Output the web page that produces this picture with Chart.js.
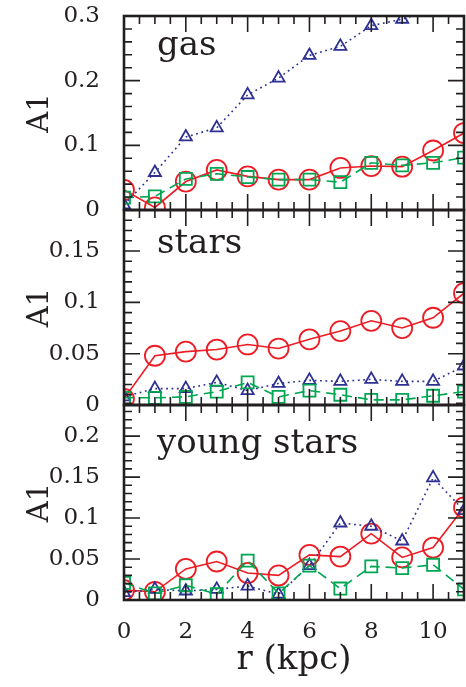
<!DOCTYPE html>
<html>
<head>
<meta charset="utf-8">
<script src="https://cdn.jsdelivr.net/npm/chart.js@4.4.0/dist/chart.umd.min.js"></script>
<style>
  html, body { margin: 0; padding: 0; background: #fff; }
  #wrap { position: relative; width: 466px; height: 687px; }
  canvas { position: absolute; left: 0; }
</style>
</head>
<body>
<div id="wrap">
  <canvas id="gasChart" width="466" height="230" style="top:0px"></canvas>
  <canvas id="starsChart" width="466" height="240" style="top:190px"></canvas>
  <canvas id="youngChart" width="466" height="302" style="top:385px"></canvas>
</div>
<script>
// radius in kpc
const radius = [0, 1, 2, 3, 4, 5, 6, 7, 8, 9, 10, 11];
const xTicks = [0, 2, 4, 6, 8, 10];

// gas
const gasTicks = [0, 0.1, 0.2, 0.3];
const gasCircle = [0.031, 0.004, 0.044, 0.062, 0.052, 0.047, 0.047, 0.065, 0.068, 0.067, 0.092, 0.119];
const gasTriangle = [0.008, 0.058, 0.113, 0.127, 0.178, 0.204, 0.239, 0.253, 0.285, 0.295, 0.31, 0.33];
const gasSquare = [0.019, 0.021, 0.048, 0.056, 0.051, 0.047, 0.047, 0.043, 0.073, 0.069, 0.073, 0.081];

// stars
const starsTicks = [0, 0.05, 0.1, 0.15];
const starsCircle = [0.006, 0.048, 0.052, 0.054, 0.059, 0.055, 0.064, 0.072, 0.082, 0.075, 0.085, 0.109];
const starsTriangle = [0.008, 0.016, 0.016, 0.022, 0.014, 0.021, 0.024, 0.023, 0.025, 0.023, 0.023, 0.038];
const starsSquare = [0.007, 0.007, 0.008, 0.013, 0.022, 0.008, 0.014, 0.010, 0.005, 0.005, 0.009, 0.013];

// young stars
const youngTicks = [0, 0.05, 0.1, 0.15, 0.2];
const youngCircle = [0.012, 0.010, 0.038, 0.047, 0.033, 0.030, 0.055, 0.053, 0.081, 0.052, 0.064, 0.113];
const youngTriangle = [0.009, 0.013, 0.011, 0.013, 0.017, 0.007, 0.042, 0.094, 0.090, 0.072, 0.149, 0.109];
const youngSquare = [0.021, 0.008, 0.018, 0.007, 0.048, 0.008, 0.042, 0.014, 0.041, 0.039, 0.043, 0.013];

const RED = '#ed1c24';
const BLUE = '#2e3192';
const GREEN = '#00a651';
const INK = '#231f20';
const FONT = '"DejaVu Serif", serif';

const fmt = v => String(+v.toFixed(3));

// frame, inward ticks on all four sides, panel name
const framePlugin = {
    id: 'frame',
    afterDraw(chart, args, opts) {
        const { ctx, chartArea: a, scales: { x, y } } = chart;
        ctx.save();
        ctx.strokeStyle = INK;
        ctx.lineWidth = 1.6;
        ctx.beginPath();
        const nx = Math.round((x.max - x.min) / 0.5);
        for (let i = 0; i <= nx; i++) {
            const v = x.min + i * 0.5;
            const px = x.getPixelForValue(v);
            const len = xTicks.includes(v) ? 16 : 8;
            ctx.moveTo(px, a.bottom); ctx.lineTo(px, a.bottom - len);
            ctx.moveTo(px, a.top); ctx.lineTo(px, a.top + len);
        }
        const ny = Math.round((y.max - y.min) / opts.yMinor);
        for (let i = 0; i <= ny; i++) {
            const v = y.min + i * opts.yMinor;
            const py = y.getPixelForValue(v);
            const major = opts.yMajor.some(t => Math.abs(t - v) < 1e-6);
            const len = major ? 16 : 8;
            ctx.moveTo(a.left, py); ctx.lineTo(a.left + len, py);
            ctx.moveTo(a.right, py); ctx.lineTo(a.right - len, py);
        }
        ctx.stroke();
        ctx.lineWidth = 2.6;
        ctx.strokeRect(a.left, a.top, a.right - a.left, a.bottom - a.top);

        ctx.fillStyle = INK;
        ctx.font = '34px ' + FONT;
        ctx.textBaseline = 'alphabetic';
        ctx.textAlign = 'left';
        ctx.fillText(opts.label, a.left + 33, a.top + opts.labelDy);
        ctx.restore();
    }
};

function makeDatasets(circle, triangle, square) {
    const pts = arr => arr.map((v, i) => ({ x: radius[i], y: v }));
    return [
        {
            data: pts(square),
            borderColor: GREEN,
            borderWidth: 1.6,
            borderDash: [10, 6],
            pointStyle: 'rect',
            pointRadius: 8.5,
            pointBorderWidth: 1.8,
            pointBackgroundColor: 'rgba(0,0,0,0)',
            clip: 0
        },
        {
            data: pts(triangle),
            borderColor: BLUE,
            borderWidth: 1.6,
            borderDash: [1.8, 3.6],
            pointStyle: 'triangle',
            pointRadius: 7,
            pointBorderWidth: 1.8,
            pointBackgroundColor: 'rgba(0,0,0,0)',
            clip: 0
        },
        {
            data: pts(circle),
            borderColor: RED,
            borderWidth: 1.6,
            pointStyle: 'circle',
            pointRadius: 10,
            pointBorderWidth: 1.8,
            pointBackgroundColor: 'rgba(0,0,0,0)',
            clip: 0
        }
    ];
}

function makePanel(id, circle, triangle, square, yTicks, yMax, yMinor, label, labelDy, padding, showX) {
    const ctx = document.getElementById(id).getContext('2d');
    return new Chart(ctx, {
        type: 'line',
        data: { datasets: makeDatasets(circle, triangle, square) },
        plugins: [framePlugin],
        options: {
            responsive: false,
            animation: false,
            layout: { padding: padding, autoPadding: false },
            plugins: {
                legend: { display: false },
                tooltip: { enabled: false },
                frame: { yMinor: yMinor, yMajor: yTicks, label: label, labelDy: labelDy }
            },
            scales: {
                x: {
                    type: 'linear',
                    min: 0,
                    max: 11,
                    display: showX,
                    afterFit: s => {
                        s.height = showX ? 87 : 0;
                        s.paddingLeft = 0;
                        s.paddingRight = 0;
                    },
                    afterBuildTicks: s => { s.ticks = xTicks.map(v => ({ value: v })); },
                    grid: { display: false },
                    border: { display: false },
                    ticks: {
                        padding: 10,
                        color: INK,
                        font: { family: FONT, size: 23 },
                        maxRotation: 0,
                        callback: v => fmt(v)
                    },
                    title: {
                        display: true,
                        text: 'r (kpc)',
                        color: INK,
                        font: { family: FONT, size: 34 },
                        padding: { top: 0, bottom: 6 }
                    }
                },
                y: {
                    type: 'linear',
                    min: 0,
                    max: yMax,
                    afterFit: s => {
                        s.width = 124;
                        s.paddingTop = 0;
                        s.paddingBottom = 0;
                    },
                    afterBuildTicks: s => { s.ticks = yTicks.map(v => ({ value: v })); },
                    grid: { display: false },
                    border: { display: false },
                    ticks: {
                        padding: 16,
                        color: INK,
                        font: { family: FONT, size: 23 },
                        callback: v => fmt(v)
                    },
                    title: {
                        display: true,
                        text: 'A1',
                        color: INK,
                        font: { family: FONT, size: 29 },
                        padding: { top: 23, bottom: 0 }
                    }
                }
            }
        }
    });
}

makePanel('gasChart', gasCircle, gasTriangle, gasSquare, gasTicks, 0.3, 0.02, 'gas', 39,
    { top: 16, bottom: 20, left: 0, right: 2 }, false);
makePanel('starsChart', starsCircle, starsTriangle, starsSquare, starsTicks, 0.19, 0.01, 'stars', 43,
    { top: 20, bottom: 25, left: 0, right: 2 }, false);
makePanel('youngChart', youngCircle, youngTriangle, youngSquare, youngTicks, 0.238, 0.01, 'young stars', 48,
    { top: 20, bottom: 0, left: 0, right: 2 }, true);
</script>
</body>
</html>
